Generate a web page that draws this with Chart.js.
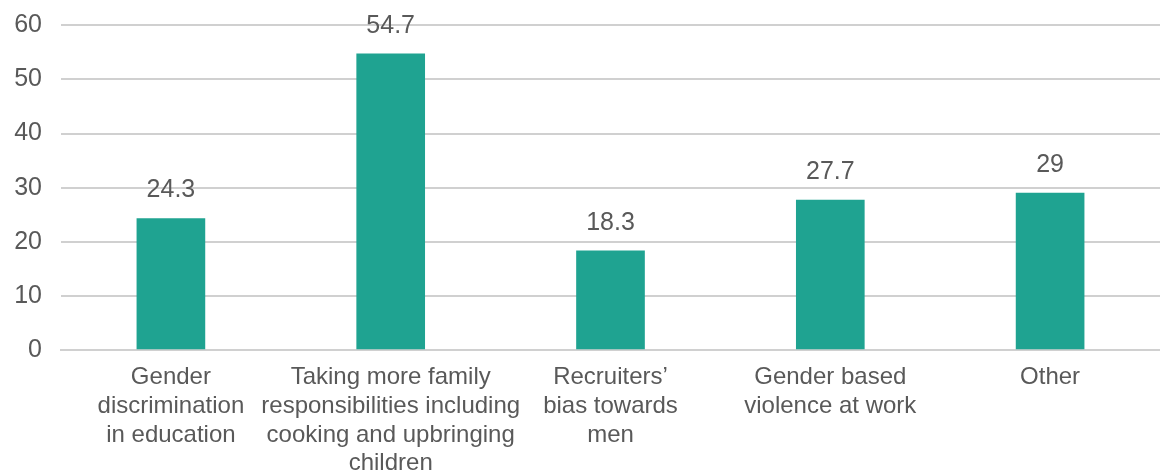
<!DOCTYPE html>
<html>
<head>
<meta charset="utf-8">
<script src="https://cdn.jsdelivr.net/npm/chart.js@4/dist/chart.umd.min.js"></script>
<style>
  html, body { margin: 0; padding: 0; background: #fff; }
  #wrap { width: 1160px; height: 470px; }
</style>
</head>
<body>
<div id="wrap"><canvas id="barChart"></canvas></div>
<script>
const categories = [
  ['Gender', 'discrimination', 'in education'],
  ['Taking more family', 'responsibilities including', 'cooking and upbringing', 'children'],
  ['Recruiters\u2019', 'bias towards', 'men'],
  ['Gender based', 'violence at work'],
  ['Other']
];
const values = [24.3, 54.7, 18.3, 27.7, 29];
const yTicks = [0, 10, 20, 30, 40, 50, 60];

const textColor = '#595959';
const fontFamily = '"Liberation Sans", Arial, Helvetica, sans-serif';

// writes the value over each bar
const valueLabels = {
  id: 'valueLabels',
  afterDatasetsDraw(chart) {
    const ctx = chart.ctx;
    const meta = chart.getDatasetMeta(0);
    ctx.save();
    ctx.font = '25px ' + fontFamily;
    ctx.fillStyle = textColor;
    ctx.textAlign = 'center';
    ctx.textBaseline = 'middle';
    meta.data.forEach((bar, i) => {
      ctx.fillText(String(values[i]), bar.x, bar.y - 28);
    });
    ctx.restore();
  }
};

new Chart(document.getElementById('barChart'), {
  type: 'bar',
  data: {
    labels: categories,
    datasets: [{
      data: values,
      backgroundColor: '#1fa391',
      barThickness: 68
    }]
  },
  options: {
    responsive: true,
    maintainAspectRatio: false,
    animation: false,
    layout: { padding: { top: 0, left: 0, right: 0, bottom: 0 } },
    plugins: {
      legend: { display: false },
      tooltip: { enabled: false }
    },
    scales: {
      x: {
        afterFit(scale) { scale.height = 120; },
        grid: { display: false },
        border: { color: '#d0d0d0', width: 2 },
        ticks: {
          color: textColor,
          font: { family: fontFamily, size: 24, lineHeight: 1.2 },
          maxRotation: 0,
          autoSkip: false,
          padding: 5
        }
      },
      y: {
        min: 0,
        max: 60,
        afterBuildTicks(scale) {
          scale.ticks = yTicks.map(v => ({ value: v }));
        },
        afterFit(scale) { scale.width = 61; },
        grid: { color: '#d0d0d0', lineWidth: 2, drawTicks: false },
        border: { display: false },
        ticks: {
          color: textColor,
          font: { family: fontFamily, size: 25, lineHeight: 0.5 },
          padding: 19
        }
      }
    }
  },
  plugins: [valueLabels]
});
</script>
</body>
</html>
